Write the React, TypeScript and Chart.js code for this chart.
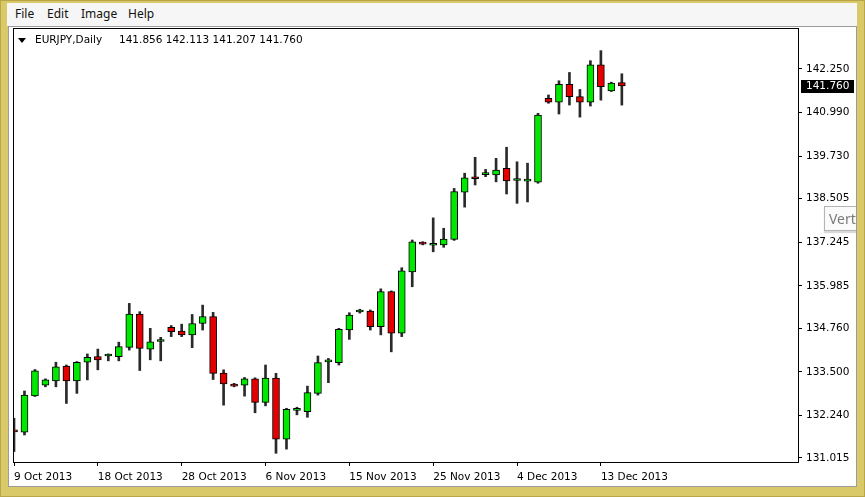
import React, { useEffect, useRef } from 'react';
import { Chart, registerables } from 'chart.js';

Chart.register(...registerables);

const symbolName = 'EURJPY,Daily';
const menuItems = ['File', 'Edit', 'Image', 'Help'];

const dates = [
  '9 Oct 2013', '10 Oct 2013', '11 Oct 2013', '13 Oct 2013', '14 Oct 2013', '15 Oct 2013', '16 Oct 2013', '17 Oct 2013', '18 Oct 2013',
  '20 Oct 2013', '21 Oct 2013', '22 Oct 2013', '23 Oct 2013', '24 Oct 2013', '25 Oct 2013', '27 Oct 2013', '28 Oct 2013', '29 Oct 2013',
  '30 Oct 2013', '31 Oct 2013', '1 Nov 2013', '3 Nov 2013', '4 Nov 2013', '5 Nov 2013', '6 Nov 2013', '7 Nov 2013', '8 Nov 2013',
  '10 Nov 2013', '11 Nov 2013', '12 Nov 2013', '13 Nov 2013', '14 Nov 2013', '15 Nov 2013', '17 Nov 2013', '18 Nov 2013', '19 Nov 2013',
  '20 Nov 2013', '21 Nov 2013', '22 Nov 2013', '24 Nov 2013', '25 Nov 2013', '26 Nov 2013', '27 Nov 2013', '28 Nov 2013', '29 Nov 2013',
  '1 Dec 2013', '2 Dec 2013', '3 Dec 2013', '4 Dec 2013', '5 Dec 2013', '6 Dec 2013', '8 Dec 2013', '9 Dec 2013', '10 Dec 2013',
  '11 Dec 2013', '12 Dec 2013', '13 Dec 2013', '15 Dec 2013', '16 Dec 2013',
];

const opens = [
  131.80, 131.76, 132.81, 133.12, 133.24, 133.67, 133.24, 133.78, 133.94, 133.96,
  133.94, 134.21, 135.17, 134.16, 134.38, 134.79, 134.68, 134.57, 134.90, 135.10,
  133.47, 133.12, 133.12, 133.30, 132.62, 133.32, 131.56, 132.39, 132.35, 132.88,
  133.79, 133.77, 134.71, 135.23, 135.26, 134.81, 135.82, 134.62, 136.39, 137.21,
  137.16, 137.17, 137.33, 138.69, 139.10, 139.20, 139.19, 139.38, 139.03, 139.01,
  138.98, 141.40, 141.29, 141.81, 141.45, 141.29, 142.37, 141.62, 141.856,
];
const highs = [
  132.16, 132.95, 133.57, 133.30, 133.78, 133.70, 133.80, 134.02, 134.16, 134.02,
  134.36, 135.48, 135.24, 134.76, 134.50, 134.84, 134.88, 135.16, 135.43, 135.22,
  133.56, 133.17, 133.34, 133.33, 133.70, 133.46, 132.45, 132.48, 133.09, 133.96,
  133.89, 134.76, 135.21, 135.31, 135.29, 135.90, 135.84, 136.51, 137.31, 137.26,
  137.95, 137.65, 138.80, 139.24, 139.70, 139.35, 139.67, 139.99, 139.57, 139.53,
  140.97, 141.50, 141.91, 142.15, 141.66, 142.49, 142.78, 141.87, 142.113,
];
const lows = [
  131.20, 131.68, 132.79, 133.07, 133.07, 132.59, 132.88, 133.27, 133.56, 133.82,
  133.82, 134.13, 133.54, 133.85, 133.82, 134.52, 134.52, 134.20, 134.71, 133.28,
  132.54, 133.07, 132.80, 132.32, 132.52, 131.15, 131.27, 132.26, 132.19, 132.83,
  133.19, 133.70, 134.44, 135.20, 134.71, 134.57, 134.08, 134.52, 135.96, 137.17,
  136.97, 137.10, 137.30, 138.26, 138.90, 139.14, 138.99, 138.64, 138.37, 138.41,
  138.95, 141.26, 140.95, 141.21, 140.86, 141.18, 141.35, 141.60, 141.207,
];
const closes = [
  131.77, 132.83, 133.53, 133.27, 133.65, 133.24, 133.78, 133.92, 133.85, 133.97,
  134.23, 135.17, 134.18, 134.37, 134.42, 134.66, 134.57, 134.90, 135.10, 133.46,
  133.15, 133.09, 133.30, 132.62, 133.32, 131.56, 132.42, 132.41, 132.90, 133.77,
  133.81, 134.73, 135.14, 135.25, 134.81, 135.82, 134.62, 136.42, 137.26, 137.19,
  137.18, 137.34, 138.71, 139.11, 139.08, 139.22, 139.33, 139.02, 139.04, 139.03,
  140.92, 141.29, 141.81, 141.45, 141.29, 142.37, 141.74, 141.84, 141.760,
];

const xTickLabels = ['9 Oct 2013', '18 Oct 2013', '28 Oct 2013', '6 Nov 2013', '15 Nov 2013', '25 Nov 2013', '4 Dec 2013', '13 Dec 2013'];
const yTickValues = [131.015, 132.24, 133.5, 134.76, 135.985, 137.245, 138.505, 139.73, 140.99, 142.25];

const BULL = '#00e800';
const BEAR = '#e40000';
const FONT = "Tahoma, 'DejaVu Sans', sans-serif";
const FONT_SIZE = 10.5;

const W = 865;
const H = 497;

const areaBorder = {
  id: 'areaBorder',
  afterDatasetsDraw(chart: any) {
    const { ctx, chartArea } = chart;
    const l = Math.round(chartArea.left) + 0.5;
    const t = Math.round(chartArea.top) + 0.5;
    const w = Math.round(chartArea.right) - Math.round(chartArea.left);
    const h = Math.round(chartArea.bottom) - Math.round(chartArea.top);
    ctx.save();
    ctx.strokeStyle = '#000';
    ctx.lineWidth = 1;
    ctx.strokeRect(l, t, w, h);
    ctx.restore();
  },
};

const lastPriceLabel = {
  id: 'lastPriceLabel',
  afterDraw(chart: any) {
    const { ctx, chartArea, scales } = chart;
    const last = closes[closes.length - 1];
    const y = Math.round(scales.y.getPixelForValue(last));
    const x = Math.round(chartArea.right) + 3;
    ctx.save();
    ctx.fillStyle = '#000';
    ctx.fillRect(x, y - 6, 53, 13);
    ctx.fillStyle = '#fff';
    ctx.font = `${FONT_SIZE}px ${FONT}`;
    ctx.textBaseline = 'middle';
    ctx.textAlign = 'left';
    ctx.fillText(last.toFixed(3), x + 5, y + 0.5);
    ctx.restore();
  },
};

export default function App() {
  const canvasRef = useRef<HTMLCanvasElement | null>(null);

  useEffect(() => {
    const canvas = canvasRef.current;
    if (!canvas) return;

    const bodies = dates.map((_, i) => ({ x: i, y: [opens[i], closes[i]] }));
    const wicks = dates.map((_, i) => ({ x: i, y: [lows[i], highs[i]] }));
    const bodyColors = dates.map((_, i) => (closes[i] >= opens[i] ? BULL : BEAR));
    const xTickPositions = xTickLabels.map((l) => dates.indexOf(l));

    const pxPerBar = 10.48;
    const areaLeft = 13;
    const areaRight = 798;
    const firstBarX = 14;
    const xMin = -(firstBarX - areaLeft) / pxPerBar;
    const xMax = xMin + (areaRight - areaLeft) / pxPerBar;

    const pxPerUnit = 34.62;
    const areaTop = 28;
    const areaBottom = 462;
    const refPrice = 142.25;
    const refY = 69;
    const yMax = refPrice + (refY - areaTop) / pxPerUnit;
    const yMin = yMax - (areaBottom - areaTop) / pxPerUnit;

    const chart = new Chart(canvas, {
      type: 'bar',
      data: {
        datasets: [
          {
            label: 'wick',
            data: wicks as any,
            backgroundColor: '#2a2a2a',
            borderWidth: 0,
            barThickness: 2,
            grouped: false,
            order: 2,
          } as any,
          {
            label: 'body',
            data: bodies as any,
            backgroundColor: bodyColors,
            borderColor: '#000',
            borderWidth: 1,
            borderSkipped: false,
            barThickness: 7,
            minBarLength: 2,
            grouped: false,
            order: 1,
          } as any,
        ],
      },
      options: {
        responsive: false,
        animation: false,
        events: [],
        layout: { padding: { left: areaLeft, top: areaTop, right: 0, bottom: 0 } },
        plugins: { legend: { display: false }, tooltip: { enabled: false }, title: { display: false } },
        scales: {
          x: {
            type: 'linear',
            position: 'bottom',
            min: xMin,
            max: xMax,
            bounds: 'data',
            offset: false,
            afterBuildTicks: (s: any) => {
              s.ticks = xTickPositions.map((v) => ({ value: v }));
            },
            afterFit: (s: any) => {
              s.height = H - areaBottom;
            },
            ticks: {
              autoSkip: false,
              maxRotation: 0,
              minRotation: 0,
              align: 'start',
              padding: 5,
              color: '#000',
              font: { family: FONT, size: FONT_SIZE },
              callback: (_v: any, i: number) => xTickLabels[i],
            },
            grid: { display: true, offset: false, drawOnChartArea: false, drawTicks: true, tickLength: 4, color: '#000' },
            border: { display: false },
          } as any,
          y: {
            type: 'linear',
            position: 'right',
            min: yMin,
            max: yMax,
            bounds: 'data',
            afterBuildTicks: (s: any) => {
              s.ticks = yTickValues.map((v) => ({ value: v }));
            },
            afterFit: (s: any) => {
              s.width = W - areaRight;
            },
            ticks: {
              autoSkip: false,
              padding: 4,
              color: '#000',
              font: { family: FONT, size: FONT_SIZE },
              callback: (v: any) => Number(v).toFixed(3),
            },
            grid: { display: true, drawOnChartArea: false, drawTicks: true, tickLength: 4, color: '#000' },
            border: { display: false },
          } as any,
        },
      },
      plugins: [areaBorder, lastPriceLabel],
    });

    return () => chart.destroy();
  }, []);

  const li = opens.length - 1;
  const ohlcText = [opens[li], highs[li], lows[li], closes[li]].map((v) => v.toFixed(3)).join(' ');
  const menuLeft = [15, 47, 81, 128];

  return (
    <div
      style={{
        position: 'fixed',
        left: 0,
        top: 0,
        width: W,
        height: H,
        background: '#dac968',
        boxShadow: 'inset 0 0 0 1px #b9a646',
        overflow: 'hidden',
        fontFamily: FONT,
      }}
    >
      <div style={{ position: 'absolute', left: 7, top: 3, width: 850, height: 23, background: '#f6f6f6' }}>
        {menuItems.map((m, i) => (
          <span
            key={m}
            style={{
              position: 'absolute',
              left: menuLeft[i] - 7,
              top: 3,
              fontFamily: "'Segoe UI', 'Noto Sans', sans-serif",
              fontSize: 12,
              color: '#111',
              lineHeight: '16px',
            }}
          >
            {m}
          </span>
        ))}
      </div>
      <div
        style={{
          position: 'absolute',
          left: 8,
          top: 26,
          width: 847,
          height: 459,
          background: '#fff',
          border: '1px solid #9c9c9c',
        }}
      />
      <canvas ref={canvasRef} width={W} height={H} style={{ position: 'absolute', left: 0, top: 0 }} />
      <div
        style={{
          position: 'absolute',
          left: 18,
          top: 38,
          width: 0,
          height: 0,
          borderLeft: '4px solid transparent',
          borderRight: '4px solid transparent',
          borderTop: '5px solid #000',
        }}
      />
      <div style={{ position: 'absolute', left: 35, top: 33, fontSize: FONT_SIZE, color: '#000', lineHeight: '13px', whiteSpace: 'pre' }}>
        {symbolName}
      </div>
      <div style={{ position: 'absolute', left: 119, top: 33, fontSize: FONT_SIZE, color: '#000', lineHeight: '13px', whiteSpace: 'pre' }}>
        {ohlcText}
      </div>
      <div style={{ position: 'absolute', left: 0, top: 0, width: 856, height: 487, overflow: 'hidden' }}>
        <div
          style={{
            position: 'absolute',
            left: 824,
            top: 206,
            width: 90,
            height: 23,
            background: '#fafafa',
            border: '1px solid #b4b4b4',
            boxShadow: '0 2px 1px rgba(0,0,0,0.15)',
            color: '#7a7a7a',
            fontFamily: "'Segoe UI', 'Noto Sans', sans-serif",
            fontSize: 14,
            lineHeight: '23px',
            paddingLeft: 4,
            whiteSpace: 'nowrap',
          }}
        >
          Vertical Line
        </div>
      </div>
    </div>
  );
}
